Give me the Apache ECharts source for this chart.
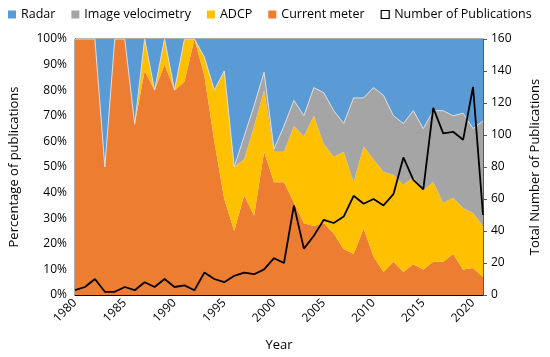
<!DOCTYPE html>
<html>
<head>
<meta charset="utf-8">
<script src="https://cdn.jsdelivr.net/npm/echarts@6/dist/echarts.min.js"></script>
<style>
html,body{margin:0;padding:0;background:#fff;}
#chart{width:550px;height:357px;}
</style>
</head>
<body>
<div id="chart"></div>
<script>
const years = [1980,1981,1982,1983,1984,1985,1986,1987,1988,1989,1990,1991,1992,1993,1994,1995,1996,1997,1998,1999,2000,2001,2002,2003,2004,2005,2006,2007,2008,2009,2010,2011,2012,2013,2014,2015,2016,2017,2018,2019,2020,2021];
const currentMeter = [100,100,100,50,100,100,66.7,87.5,80,90,80,83.3,100,85.7,60,37.5,25,39,31,56,44,44,36,28,27,28,24,18,16,26,15,9,13,9,12,10,13,13,16,10,10.5,7];
const adcp = [0,0,0,0,0,0,0,12.5,0,10,0,16.7,0,7.2,20,50,25,14,35,24,12,12,30,34,43,31,30,38,28,32,38,39,34,34,34,31,31,23,22,24,21.5,20];
const imageVelocimetry = [0,0,0,0,0,0,0,0,0,0,0,0,0,0,0,0,0,9,8,7,1,10,10,8,11,20,18,11,33,19,28,30,23,24,26,24,28,36,32,37,33,41];
const radar = [0,0,0,50,0,0,33.3,0,20,0,20,0,0,7.1,20,12.5,50,38,26,13,43,34,24,30,19,21,28,33,23,23,19,22,30,33,28,35,28,28,30,29,35,32];
const publications = [3,5,10,2,2,5,3,8,5,10,5,6,3,14,10,8,12,14,13,16,23,20,56,29,37,47,45,49,62,57,60,56,63,86,72,66,117,101,102,97,130,50];
const percentTicks = [0,10,20,30,40,50,60,70,80,90,100];
const countTicks = [0,20,40,60,80,100,120,140,160];

const FONT = 'Open Sans';
const chart = echarts.init(document.getElementById('chart'), null, {renderer:'canvas'});

function area(name, data, color, line) {
  return {
    name, type:'line', stack:'pct', data, symbol:'none', smooth:false,
    lineStyle: line ? {color:'#dcdcdc', width:1} : {width:0, color},
    itemStyle:{color},
    areaStyle:{color, opacity:1},
    z: 2
  };
}

chart.setOption({
  animation:false,
  textStyle:{fontFamily:FONT},
  legend:{
    top:3, left:3, width:548, itemWidth:8, itemHeight:8, itemGap:16,
    textStyle:{fontFamily:FONT, fontSize:12.5, color:'#000'},
    data:[
      {name:'Radar', icon:'rect'},
      {name:'Image velocimetry', icon:'rect'},
      {name:'ADCP', icon:'rect'},
      {name:'Current meter', icon:'rect'},
      {name:'Number of Publications', icon:'rect', itemStyle:{color:'#fff', borderColor:'#000', borderWidth:1.2}}
    ]
  },
  grid:{left:66, right:62, top:39, bottom:60, show:true, borderColor:'#595959', borderWidth:1},
  xAxis:{
    type:'category', data:years.map(String), boundaryGap:false,
    name:'Year', nameLocation:'middle', nameGap:44,
    nameTextStyle:{fontFamily:FONT, fontSize:13, color:'#000'},
    axisLine:{lineStyle:{color:'#000', width:1}},
    axisTick:{show:false},
    axisLabel:{interval:4, rotate:45, fontFamily:FONT, fontSize:12, color:'#000', margin:6},
    splitLine:{show:false}
  },
  yAxis:[
    {
      type:'value', min:0, max:100, interval:10, position:'left',
      name:'Percentage of publications', nameLocation:'middle', nameGap:54,
      nameTextStyle:{fontFamily:FONT, fontSize:13, color:'#000'},
      axisLine:{show:true, lineStyle:{color:'#000'}},
      axisTick:{show:false},
      axisLabel:{formatter:v=>v+'%', fontFamily:FONT, fontSize:12, color:'#000', margin:8},
      splitLine:{show:false}
    },
    {
      type:'value', min:0, max:160, interval:20, position:'right',
      name:'Total Number of Publications', nameLocation:'middle', nameGap:46,
      nameTextStyle:{fontFamily:FONT, fontSize:13, color:'#000'},
      axisLine:{show:true, lineStyle:{color:'#595959'}},
      axisTick:{show:true, inside:false, length:4, lineStyle:{color:'#595959'}},
      axisLabel:{fontFamily:FONT, fontSize:12, color:'#000', margin:8},
      splitLine:{show:false}
    }
  ],
  series:[
    area('Current meter', currentMeter, '#ed7d31', false),
    area('ADCP', adcp, '#ffc000', false),
    area('Image velocimetry', imageVelocimetry, '#a5a5a5', true),
    area('Radar', radar, '#5b9bd5', false),
    {
      name:'Number of Publications', type:'line', yAxisIndex:1, data:publications,
      symbol:'none', lineStyle:{color:'#000', width:1.8}, itemStyle:{color:'#000'}, z:5
    }
  ]
});
</script>
</body>
</html>
